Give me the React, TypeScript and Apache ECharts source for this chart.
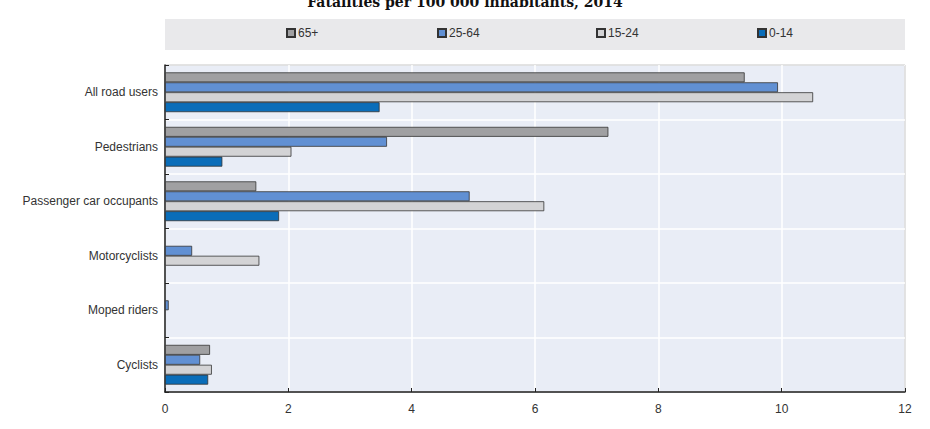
import React, { useEffect, useRef } from "react";
import * as echarts from "echarts";

const titleText = "Fatalities per 100 000 inhabitants, 2014";
const categories = [
  "All road users",
  "Pedestrians",
  "Passenger car occupants",
  "Motorcyclists",
  "Moped riders",
  "Cyclists",
];
const seriesNames = ["65+", "25-64", "15-24", "0-14"];
const values65plus = [9.4, 7.19, 1.48, null, null, 0.73];
const values25to64 = [9.94, 3.6, 4.94, 0.44, 0.06, 0.57];
const values15to24 = [10.51, 2.05, 6.15, 1.53, null, 0.76];
const values0to14 = [3.48, 0.93, 1.85, null, null, 0.7];
const seriesValues = [values65plus, values25to64, values15to24, values0to14];
const seriesColors = ["#a0a0a2", "#6190d3", "#d3d3d5", "#0a6db9"];
const xMin = 0;
const xMax = 12;
const xInterval = 2;

const legendLefts = [286, 437, 596, 757];
const FONT = "'Liberation Sans', Arial, sans-serif";

export default function App() {
  const ref = useRef<HTMLDivElement>(null);
  useEffect(() => {
    document.body.style.margin = "0";
    if (!ref.current) return;
    const chart = echarts.init(ref.current, undefined, { renderer: "svg" });
    const option: any = {
      animation: false,
      backgroundColor: "#ffffff",
      textStyle: { fontFamily: FONT },
      graphic: [
        {
          type: "rect",
          z: 0,
          shape: { x: 165, y: 19, width: 740, height: 31 },
          style: { fill: "#e9e9eb" },
        },
        {
          type: "text",
          x: 465,
          y: 2,
          style: {
            text: titleText,
            align: "center",
            verticalAlign: "middle",
            fontFamily: "'DejaVu Serif', serif",
            fontWeight: "bold",
            fontSize: 14,
            fill: "#111",
          },
        },
      ],
      legend: seriesNames.map((n, i) => ({
        data: [n],
        left: legendLefts[i],
        top: 27,
        padding: 0,
        icon: "rect",
        itemWidth: 8,
        itemHeight: 8,
        itemGap: 3,
        textStyle: { fontSize: 12, color: "#333", fontFamily: FONT, padding: [0, 0, 0, -2] },
      })),
      grid: {
        left: 165,
        right: 25,
        top: 65,
        bottom: 37,
        show: true,
        backgroundColor: "#e9edf6",
        borderColor: "#222",
        borderWidth: 1,
      },
      xAxis: {
        type: "value",
        min: xMin,
        max: xMax,
        interval: xInterval,
        axisLine: { show: true, lineStyle: { color: "#222", width: 1.5 } },
        axisTick: { show: true, inside: true, length: 4, lineStyle: { color: "#222" } },
        splitLine: { show: true, lineStyle: { color: "#ffffff", width: 1.5 } },
        axisLabel: { fontSize: 12, color: "#333", margin: 11, fontFamily: FONT },
      },
      yAxis: {
        type: "category",
        data: categories,
        inverse: true,
        axisLine: { show: true, lineStyle: { color: "#222", width: 1.5 } },
        axisTick: { show: true, inside: true, length: 4, lineStyle: { color: "#222" } },
        splitLine: { show: true, lineStyle: { color: "#ffffff", width: 1.5 } },
        axisLabel: { fontSize: 12, color: "#333", margin: 7, fontFamily: FONT },
      },
      series: seriesNames.map((n, i) => ({
        name: n,
        type: "bar",
        data: seriesValues[i],
        barGap: "0%",
        barCategoryGap: "27%",
        itemStyle: { color: seriesColors[i], borderColor: "#333", borderWidth: 0.8 },
      })),
    };
    chart.setOption(option);
    return () => chart.dispose();
  }, []);
  return <div ref={ref} style={{ width: 930, height: 429 }} />;
}
